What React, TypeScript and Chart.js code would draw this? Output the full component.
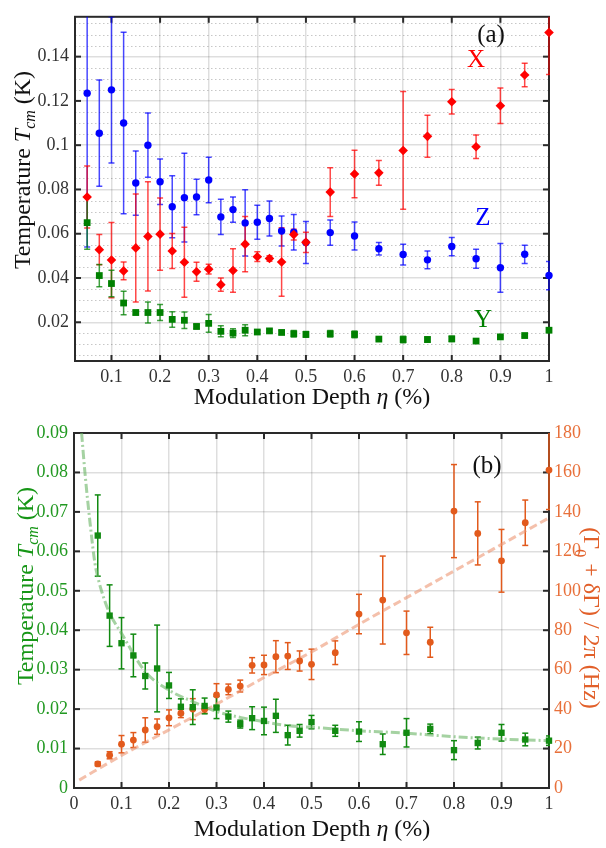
import React, { useEffect, useRef } from "react";
import { Chart, registerables } from "chart.js";

Chart.register(...registerables);

const FONT = "'Liberation Serif', 'Times New Roman', Times, serif";

// ---------------- data ----------------
const eta = [0.05, 0.075, 0.1, 0.125, 0.15, 0.175, 0.2, 0.225, 0.25, 0.275, 0.3, 0.325, 0.35, 0.375, 0.4, 0.425, 0.45, 0.475, 0.5, 0.55, 0.6, 0.65, 0.7, 0.75, 0.8, 0.85, 0.9, 0.95, 1.0];

// panel (a)
const tempX = [0.0766, 0.0528, 0.0481, 0.0432, 0.0536, 0.0588, 0.0598, 0.0522, 0.0471, 0.0428, 0.044, 0.037, 0.0434, 0.0553, 0.0496, 0.0488, 0.0472, 0.0596, 0.0561, 0.0788, 0.087, 0.0875, 0.0976, 0.104, 0.1196, 0.0993, 0.1178, 0.1317, 0.1509];
const errX = [0.014, 0.0068, 0.017, 0.004, 0.0244, 0.0247, 0.0163, 0.0079, 0.0158, 0.0043, 0.0022, 0.003, 0.0098, 0.0125, 0.0022, 0.0012, 0.0155, 0.0024, 0.0046, 0.011, 0.0107, 0.0056, 0.0266, 0.0095, 0.0055, 0.0053, 0.008, 0.0053, 0.019];
const tempZ = [0.1235, 0.1054, 0.125, 0.11, 0.0829, 0.1, 0.0835, 0.0722, 0.0763, 0.0766, 0.0843, 0.0676, 0.0709, 0.0649, 0.0652, 0.0669, 0.0612, 0.0607, 0.056, 0.0605, 0.059, 0.0532, 0.0506, 0.0482, 0.0542, 0.0487, 0.0446, 0.0507, 0.0411];
const errZ = [0.0695, 0.024, 0.033, 0.041, 0.0145, 0.0145, 0.0103, 0.014, 0.02, 0.008, 0.0103, 0.008, 0.0057, 0.015, 0.0077, 0.0079, 0.0068, 0.008, 0.0095, 0.0057, 0.0063, 0.0028, 0.0047, 0.004, 0.0041, 0.0043, 0.011, 0.0041, 0.0064];
const tempY = [0.065, 0.0411, 0.0375, 0.0287, 0.0244, 0.0244, 0.0244, 0.0213, 0.0209, 0.0181, 0.0195, 0.0159, 0.0151, 0.0164, 0.0156, 0.0161, 0.0154, 0.0148, 0.0145, 0.0148, 0.0145, 0.0124, 0.0122, 0.0122, 0.0125, 0.0115, 0.0134, 0.014, 0.0164];
const errY = [0.012, 0.005, 0.006, 0.0053, 0.001, 0.0047, 0.0036, 0.0035, 0.0037, 0.001, 0.004, 0.0025, 0.002, 0.0025, 0.0008, 0.0008, 0.0008, 0.0015, 0.0013, 0.0015, 0.0015, 0.0005, 0.0015, 0.0012, 0.0012, 0.0004, 0.0005, 0.0005, 0.0008];

const xTicksA = [0.1, 0.2, 0.3, 0.4, 0.5, 0.6, 0.7, 0.8, 0.9, 1.0];
const xLabelsA = ["0.1", "0.2", "0.3", "0.4", "0.5", "0.6", "0.7", "0.8", "0.9", "1"];
const yTicksA = [0.02, 0.04, 0.06, 0.08, 0.1, 0.12, 0.14];
const yLabelsA = ["0.02", "0.04", "0.06", "0.08", "0.1", "0.12", "0.14"];
const yMinorA = [0.005, 0.01, 0.015, 0.025, 0.03, 0.035, 0.045, 0.05, 0.055, 0.065, 0.07, 0.075, 0.085, 0.09, 0.095, 0.105, 0.11, 0.115, 0.125, 0.13, 0.135, 0.145, 0.15, 0.155];

// panel (b)
const tcm = [0.064, 0.0437, 0.0367, 0.0336, 0.0284, 0.0303, 0.026, 0.0206, 0.0205, 0.0208, 0.0204, 0.0181, 0.0162, 0.0177, 0.017, 0.0183, 0.0134, 0.0145, 0.0167, 0.0145, 0.0143, 0.0111, 0.014, 0.015, 0.0096, 0.0114, 0.014, 0.0123, 0.012];
const errTcm = [0.0103, 0.0078, 0.0065, 0.0054, 0.0033, 0.011, 0.0033, 0.002, 0.0044, 0.002, 0.0028, 0.0014, 0.001, 0.0029, 0.0035, 0.0042, 0.0025, 0.0016, 0.0017, 0.0014, 0.0025, 0.0026, 0.0036, 0.0012, 0.0024, 0.0015, 0.0021, 0.0016, 0.0012];
const gamma = [12.2, 16.6, 22.2, 24.3, 29.4, 31.1, 35.6, 37.9, 40, 39.9, 47.2, 50, 51.7, 62.2, 62.4, 66.6, 66.9, 64.4, 62.7, 68.6, 88.2, 95.3, 78.7, 73.9, 140.4, 129.1, 115.2, 134.5, 161.2];
const errGamma = [1, 1.8, 4.4, 3.8, 6.2, 3.9, 4, 2.2, 5.3, 2, 5.7, 2.7, 3, 3.9, 4.9, 8.1, 6.8, 5.1, 7.7, 6, 10, 22.3, 11, 7.6, 23.6, 16, 15.9, 11.5, 20];

const fitTcmEta = [0.016, 0.023, 0.034, 0.044, 0.05, 0.064, 0.075, 0.1, 0.15, 0.2, 0.25, 0.3, 0.35, 0.4, 0.45, 0.5, 0.6, 0.7, 0.8, 0.9, 1.0];
const fitTcm = [0.09, 0.08, 0.067, 0.057, 0.0535, 0.0477, 0.0443, 0.0392, 0.0295, 0.0248, 0.0219, 0.0194, 0.0179, 0.0168, 0.0158, 0.0154, 0.0145, 0.0139, 0.013, 0.0124, 0.012];
const fitGammaEta = [0.011, 0.1, 0.2, 0.3, 0.4, 0.5, 0.6, 0.7, 0.8, 0.9, 1.0];
const fitGamma = [4, 16.5, 29.5, 42.5, 56, 69, 83, 96.5, 110, 123.5, 137];

const xTicksB = [0, 0.1, 0.2, 0.3, 0.4, 0.5, 0.6, 0.7, 0.8, 0.9, 1.0];
const xLabelsB = ["0", "0.1", "0.2", "0.3", "0.4", "0.5", "0.6", "0.7", "0.8", "0.9", "1"];
const yTicksB = [0, 0.01, 0.02, 0.03, 0.04, 0.05, 0.06, 0.07, 0.08, 0.09];
const yLabelsB = ["0", "0.01", "0.02", "0.03", "0.04", "0.05", "0.06", "0.07", "0.08", "0.09"];
const y2TicksB = [0, 20, 40, 60, 80, 100, 120, 140, 160, 180];
const y2LabelsB = ["0", "20", "40", "60", "80", "100", "120", "140", "160", "180"];

// ---------------- helpers ----------------
type Seg = { t: string; it?: boolean; sub?: number };

function drawRich(ctx: CanvasRenderingContext2D, segs: Seg[], x: number, y: number, rot: number, size: number, color: string) {
  ctx.save();
  ctx.translate(x, y);
  ctx.rotate(rot);
  ctx.fillStyle = color;
  ctx.textAlign = "left";
  ctx.textBaseline = "alphabetic";
  const fontOf = (s: Seg) => `${s.it ? "italic " : ""}${s.sub ? Math.round(size * 0.68) : size}px ${FONT}`;
  let total = 0;
  const ws = segs.map((s) => {
    ctx.font = fontOf(s);
    const w = ctx.measureText(s.t).width;
    total += w;
    return w;
  });
  let cx = -total / 2;
  const base = size * 0.34;
  segs.forEach((s, i) => {
    ctx.font = fontOf(s);
    ctx.fillText(s.t, cx, base + (s.sub ? size * s.sub : 0));
    cx += ws[i];
  });
  ctx.restore();
}

type ErrSpec = { ds: number; err: number[]; color: string };
type TextSpec = { segs: Seg[]; x: number; y: number; rot: number; size: number; color: string };
type DecorCfg = {
  name: string;
  xTicks: number[];
  yTicks: number[];
  rightAxis?: string;
  rightTicks?: number[];
  minorY?: number[];
  errs: ErrSpec[];
  texts: TextSpec[];
};

function makeDecor(cfg: DecorCfg) {
  return {
    id: "decor_" + cfg.name,
    beforeDatasetsDraw(chart: any) {
      const ctx: CanvasRenderingContext2D = chart.ctx;
      const a = chart.chartArea;
      const xs = chart.scales.x;
      const ys = chart.scales.y;
      ctx.save();
      if (cfg.minorY) {
        ctx.strokeStyle = "rgba(0,0,0,0.22)";
        ctx.lineWidth = 1;
        ctx.setLineDash([1.5, 2.5]);
        cfg.minorY.forEach((v) => {
          const p = Math.round(ys.getPixelForValue(v)) + 0.5;
          if (p < a.top || p > a.bottom) return;
          ctx.beginPath();
          ctx.moveTo(a.left, p);
          ctx.lineTo(a.right, p);
          ctx.stroke();
        });
        ctx.setLineDash([]);
      }
      ctx.strokeStyle = "#2a2a2a";
      ctx.lineWidth = 2;
      ctx.strokeRect(a.left, a.top, a.right - a.left, a.bottom - a.top);
      const line = (x1: number, y1: number, x2: number, y2: number) => {
        ctx.beginPath();
        ctx.moveTo(x1, y1);
        ctx.lineTo(x2, y2);
        ctx.stroke();
      };
      const tl = 6;
      cfg.xTicks.forEach((v) => {
        const p = xs.getPixelForValue(v);
        line(p, a.bottom, p, a.bottom - tl);
        line(p, a.top, p, a.top + tl);
      });
      cfg.yTicks.forEach((v) => {
        const p = ys.getPixelForValue(v);
        line(a.left, p, a.left + tl, p);
      });
      const yr = cfg.rightAxis ? chart.scales[cfg.rightAxis] : ys;
      (cfg.rightTicks || cfg.yTicks).forEach((v) => {
        const p = yr.getPixelForValue(v);
        line(a.right, p, a.right - tl, p);
      });
      ctx.beginPath();
      ctx.rect(a.left - 1, a.top, a.right - a.left + 2, a.bottom - a.top);
      ctx.clip();
      cfg.errs.forEach((e) => {
        const meta = chart.getDatasetMeta(e.ds);
        const exs = chart.scales[meta.xAxisID];
        const eys = chart.scales[meta.yAxisID];
        const data = chart.data.datasets[e.ds].data;
        ctx.strokeStyle = e.color;
        ctx.lineWidth = 1.5;
        data.forEach((d: any, i: number) => {
          const x = exs.getPixelForValue(d.x);
          const y1 = eys.getPixelForValue(d.y + e.err[i]);
          const y2 = eys.getPixelForValue(d.y - e.err[i]);
          line(x, y1, x, y2);
          line(x - 3, y1, x + 3, y1);
          line(x - 3, y2, x + 3, y2);
        });
      });
      ctx.restore();
    },
    afterDraw(chart: any) {
      const ctx: CanvasRenderingContext2D = chart.ctx;
      cfg.texts.forEach((t) => drawRich(ctx, t.segs, t.x, t.y, t.rot, t.size, t.color));
    },
  };
}

const tickFont = { family: FONT, size: 18 };
const gridOpts = { color: "rgba(0,0,0,0.13)", lineWidth: 1.5, drawTicks: false };

const xLabelSegs: Seg[] = [{ t: "Modulation Depth " }, { t: "η", it: true }, { t: " (%)" }];
const tempLabelSegs: Seg[] = [{ t: "Temperature " }, { t: "T", it: true }, { t: "cm", it: true, sub: 0.22 }, { t: " (K)" }];
const gammaLabelSegs: Seg[] = [{ t: "(Γ" }, { t: "0", sub: 0.38 }, { t: " + δΓ) / 2π (Hz)" }];

function topConfig(): any {
  const pts = (ys: number[]) => eta.map((x, i) => ({ x, y: ys[i] }));
  return {
    type: "scatter",
    data: {
      datasets: [
        { label: "Y", data: pts(tempY), pointStyle: "rect", pointRadius: 4.8, backgroundColor: "#008000", borderColor: "#008000", borderWidth: 0, clip: false },
        { label: "X", data: pts(tempX), pointStyle: "rectRot", pointRadius: 4.8, backgroundColor: "#ff0000", borderColor: "#ff0000", borderWidth: 0, clip: false },
        { label: "Z", data: pts(tempZ), pointStyle: "circle", pointRadius: 3.7, backgroundColor: "#0000ff", borderColor: "#0000ff", borderWidth: 0, clip: false },
      ],
    },
    options: {
      responsive: false,
      animation: false,
      devicePixelRatio: 1,
      events: [],
      layout: { padding: { top: 5, right: 57, left: 0, bottom: 0 } },
      plugins: { legend: { display: false }, tooltip: { enabled: false } },
      scales: {
        x: {
          type: "linear",
          min: 0.025,
          max: 1,
          afterBuildTicks: (s: any) => { s.ticks = xTicksA.map((v) => ({ value: v })); },
          afterFit: (s: any) => { s.height = 49; },
          ticks: { callback: (_v: any, i: number) => xLabelsA[i], font: tickFont, color: "#333", padding: 5, maxRotation: 0, autoSkip: false },
          grid: gridOpts,
          border: { display: false },
        },
        y: {
          type: "linear",
          min: 0.0025,
          max: 0.158,
          afterBuildTicks: (s: any) => { s.ticks = yTicksA.map((v) => ({ value: v })); },
          afterFit: (s: any) => { s.width = 75; },
          ticks: { callback: (_v: any, i: number) => yLabelsA[i], font: tickFont, color: "#333", padding: 6, autoSkip: false },
          grid: gridOpts,
          border: { display: false },
        },
      },
    },
    plugins: [
      makeDecor({
        name: "a",
        xTicks: xTicksA,
        yTicks: yTicksA,
        minorY: yMinorA,
        errs: [
          { ds: 2, err: errZ, color: "rgba(0,0,255,0.72)" },
          { ds: 1, err: errX, color: "rgba(255,0,0,0.72)" },
          { ds: 0, err: errY, color: "rgba(0,128,0,0.75)" },
        ],
        texts: [
          { segs: tempLabelSegs, x: 22, y: 170, rot: -Math.PI / 2, size: 24, color: "#111" },
          { segs: xLabelSegs, x: 312, y: 396, rot: 0, size: 24, color: "#111" },
          { segs: [{ t: "(a)" }], x: 491, y: 33, rot: 0, size: 25, color: "#111" },
          { segs: [{ t: "X" }], x: 476, y: 58, rot: 0, size: 25, color: "#ff0000" },
          { segs: [{ t: "Z" }], x: 483, y: 216, rot: 0, size: 25, color: "#0000ff" },
          { segs: [{ t: "Y" }], x: 483, y: 318, rot: 0, size: 25, color: "#008000" },
        ],
      }),
    ],
  };
}

const GREEN = "#118a11";
const ORANGE = "#e25a1c";

function bottomConfig(): any {
  return {
    type: "scatter",
    data: {
      datasets: [
        { label: "Tcm", data: eta.map((x, i) => ({ x, y: tcm[i] })), yAxisID: "y", pointStyle: "rect", pointRadius: 4.5, backgroundColor: GREEN, borderColor: GREEN, borderWidth: 0, clip: false },
        { label: "Gamma", data: eta.map((x, i) => ({ x, y: gamma[i] })), yAxisID: "y2", pointStyle: "circle", pointRadius: 3.4, backgroundColor: ORANGE, borderColor: ORANGE, borderWidth: 0, clip: false },
        { label: "fitT", data: fitTcmEta.map((x, i) => ({ x, y: fitTcm[i] })), yAxisID: "y", showLine: true, pointRadius: 0, borderColor: "rgba(105,180,100,0.6)", borderWidth: 3, borderDash: [9, 3, 2, 3], cubicInterpolationMode: "monotone" },
        { label: "fitG", data: fitGammaEta.map((x, i) => ({ x, y: fitGamma[i] })), yAxisID: "y2", showLine: true, pointRadius: 0, borderColor: "rgba(236,150,115,0.6)", borderWidth: 3, borderDash: [8, 4], cubicInterpolationMode: "monotone" },
      ],
    },
    options: {
      responsive: false,
      animation: false,
      devicePixelRatio: 1,
      events: [],
      layout: { padding: { top: 23, right: 0, left: 0, bottom: 0 } },
      plugins: { legend: { display: false }, tooltip: { enabled: false } },
      scales: {
        x: {
          type: "linear",
          min: 0,
          max: 1,
          afterBuildTicks: (s: any) => { s.ticks = xTicksB.map((v) => ({ value: v })); },
          afterFit: (s: any) => { s.height = 60; },
          ticks: { callback: (_v: any, i: number) => xLabelsB[i], font: tickFont, color: "#333", padding: 5, maxRotation: 0, autoSkip: false },
          grid: gridOpts,
          border: { display: false },
        },
        y: {
          type: "linear",
          position: "left",
          min: 0,
          max: 0.09,
          afterBuildTicks: (s: any) => { s.ticks = yTicksB.map((v) => ({ value: v })); },
          afterFit: (s: any) => { s.width = 74; },
          ticks: { callback: (_v: any, i: number) => yLabelsB[i], font: tickFont, color: "#229922", padding: 6, autoSkip: false },
          grid: gridOpts,
          border: { display: false },
        },
        y2: {
          type: "linear",
          position: "right",
          min: 0,
          max: 180,
          afterBuildTicks: (s: any) => { s.ticks = y2TicksB.map((v) => ({ value: v })); },
          afterFit: (s: any) => { s.width = 57; },
          ticks: { callback: (_v: any, i: number) => y2LabelsB[i], font: tickFont, color: "#e8703a", padding: 5, autoSkip: false },
          grid: { drawOnChartArea: false, drawTicks: false },
          border: { display: false },
        },
      },
    },
    plugins: [
      makeDecor({
        name: "b",
        xTicks: xTicksB,
        yTicks: yTicksB,
        rightAxis: "y2",
        rightTicks: y2TicksB,
        errs: [
          { ds: 1, err: errGamma, color: ORANGE },
          { ds: 0, err: errTcm, color: GREEN },
        ],
        texts: [
          { segs: tempLabelSegs, x: 25, y: 176, rot: -Math.PI / 2, size: 24, color: "#169616" },
          { segs: gammaLabelSegs, x: 592, y: 208, rot: Math.PI / 2, size: 24, color: "#e2602a" },
          { segs: xLabelSegs, x: 312, y: 418, rot: 0, size: 24, color: "#111" },
          { segs: [{ t: "(b)" }], x: 487, y: 54, rot: 0, size: 25, color: "#111" },
        ],
      }),
    ],
  };
}

function ChartBox({ make, top, height }: { make: () => any; top: number; height: number }) {
  const ref = useRef<HTMLCanvasElement | null>(null);
  useEffect(() => {
    if (!ref.current) return;
    const chart = new Chart(ref.current, make());
    return () => chart.destroy();
  }, []);
  return (
    <div style={{ position: "absolute", left: 0, top, width: 606, height }}>
      <canvas ref={ref} width={606} height={height} style={{ width: 606, height, display: "block" }} />
    </div>
  );
}

export default function App() {
  return (
    <div style={{ position: "absolute", left: 0, top: 0, width: 606, height: 848, background: "#fff" }}>
      <ChartBox make={topConfig} top={0} height={410} />
      <ChartBox make={bottomConfig} top={410} height={438} />
    </div>
  );
}
